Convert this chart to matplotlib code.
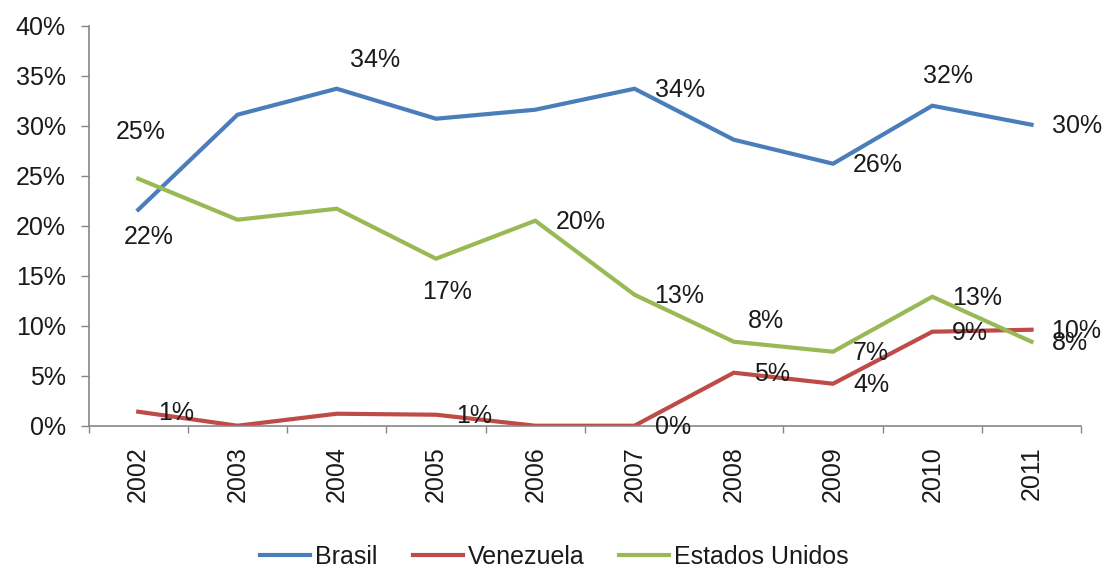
import numpy as np
import matplotlib
matplotlib.use("Agg")
import matplotlib.pyplot as plt
from matplotlib.ticker import PercentFormatter, FixedLocator

plt.rcParams['font.family'] = ['Liberation Sans', 'DejaVu Sans']

anos = ['2002', '2003', '2004', '2005', '2006', '2007', '2008', '2009', '2010', '2011']
brasil = [21.6, 31.1, 33.7, 30.7, 31.6, 33.7, 28.6, 26.2, 32.0, 30.1]
venezuela = [1.4, 0.0, 1.2, 1.1, 0.0, 0.0, 5.3, 4.2, 9.4, 9.6]
eeuu = [24.7, 20.6, 21.7, 16.7, 20.5, 13.1, 8.4, 7.4, 12.9, 8.4]

# indices que tienen etiqueta en el grafico original
lab_brasil = [0, 2, 5, 7, 8, 9]
lab_venezuela = [0, 3, 5, 6, 7, 8, 9]
lab_eeuu = [0, 3, 4, 5, 6, 7, 8, 9]

# desplazamiento de etiquetas (pixeles) y alineacion
pos_brasil = {0: (10, -27, 'center'), 2: (38, 29, 'center'), 8: (16, 30, 'center')}
pos_eeuu = {0: (2, 47, 'center'), 3: (11, -33, 'center'), 6: (14, 21, 'left')}
DEF = (20, -1, 'left')

c_bra = '#4A7EBB'
c_ven = '#BE4B48'
c_eu = '#98B954'
FS = 18

fig = plt.figure(figsize=(11.09, 5.69), dpi=100)
ax = fig.add_axes([0.0799, 0.2518, 0.895, 0.703])
x = np.arange(len(anos))

series = [('Brasil', brasil, c_bra, lab_brasil, pos_brasil),
          ('Venezuela', venezuela, c_ven, lab_venezuela, {}),
          ('Estados Unidos', eeuu, c_eu, lab_eeuu, pos_eeuu)]

for nombre, vals, col, labs, pos in series:
    ax.plot(x, vals, color=col, lw=3, label=nombre, solid_joinstyle='miter')

for nombre, vals, col, labs, pos in series:
    for i in labs:
        dx, dy, ha = pos.get(i, DEF)
        ax.annotate('%d%%' % round(vals[i]), (x[i], vals[i]), xytext=(dx, dy),
                    textcoords='offset pixels', ha=ha, va='center',
                    fontsize=FS, color='#1a1a1a', annotation_clip=False)

ax.set_xlim(-0.5, len(anos) - 0.5)
ax.set_ylim(0, 40)
ax.set_yticks(np.arange(0, 41, 5))
ax.yaxis.set_major_formatter(PercentFormatter(decimals=0))
ax.set_xticks(x)
ax.set_xticklabels(anos, rotation=90)
ax.xaxis.set_minor_locator(FixedLocator(np.arange(-0.5, len(anos), 1)))
ax.tick_params(axis='x', which='major', length=0, pad=15, labelsize=FS, labelcolor='#1a1a1a')
ax.tick_params(axis='x', which='minor', length=5, width=1, color='#868686')
ax.tick_params(axis='y', length=5.5, width=1, color='#868686', pad=11,
               labelsize=FS, labelcolor='#1a1a1a')

for s in ['top', 'right']:
    ax.spines[s].set_visible(False)
for s in ['left', 'bottom']:
    ax.spines[s].set_color('#868686')
    ax.spines[s].set_linewidth(1.2)

fig.legend(loc='center', bbox_to_anchor=(0.5, 0.021), ncol=3, frameon=False,
           fontsize=FS, handlelength=2.0, handletextpad=0.2, columnspacing=1.4,
           labelcolor='#1a1a1a')

fig.savefig('out.png', dpi=100)
